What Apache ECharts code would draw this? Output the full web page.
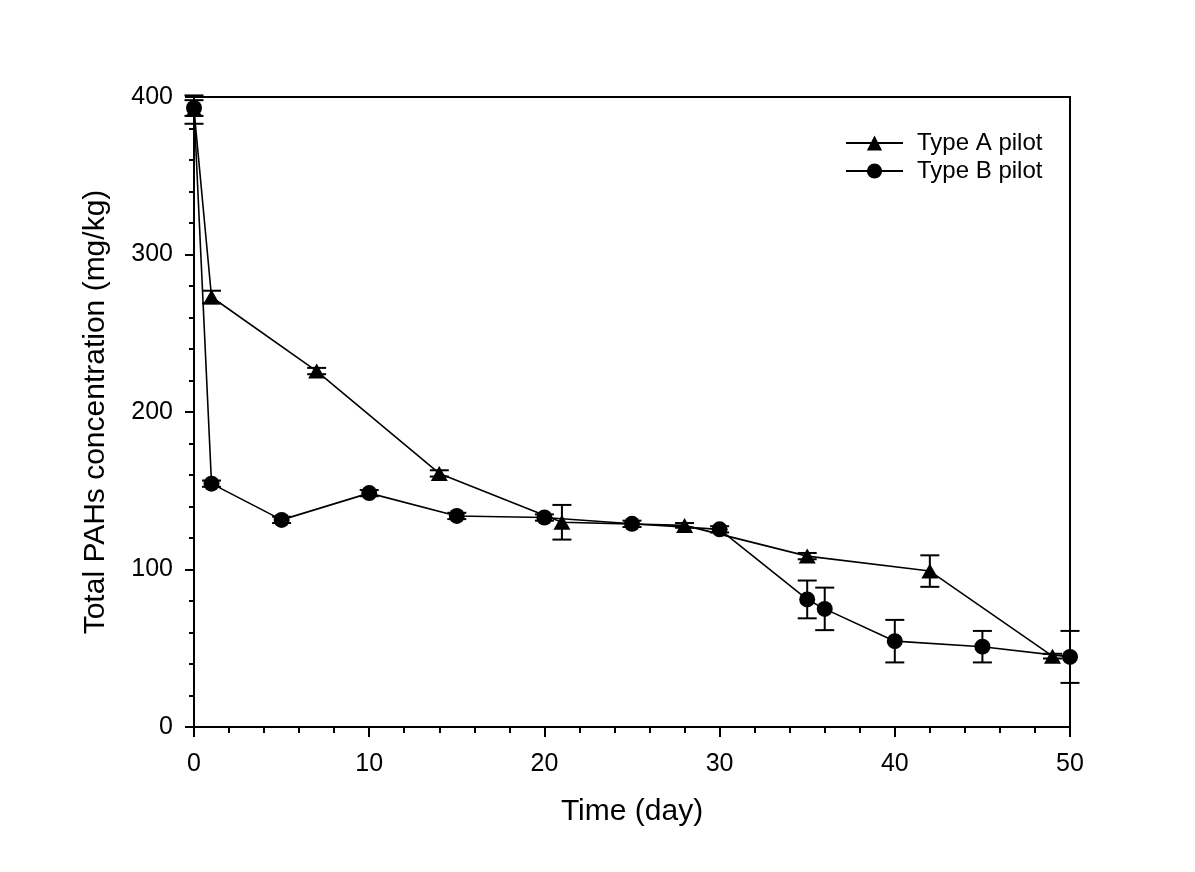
<!DOCTYPE html>
<html>
<head>
<meta charset="utf-8">
<script src="https://cdn.jsdelivr.net/npm/echarts@6/dist/echarts.min.js"></script>
<style>html,body{margin:0;padding:0;background:#fff;}#c{width:1195px;height:872px;}</style>
</head>
<body>
<div id="c"></div>
<script>
// Type A pilot
const aDays = [0, 1, 7, 14, 21, 28, 35, 42, 49];
const aConc = [392, 273, 226, 161, 130, 128, 108.5, 99, 45];
const aErr  = [9, 4, 2, 2, 11, 1.5, 2, 10, 1.5];
// Type B pilot
const bDays = [0, 1, 5, 10, 15, 20, 25, 30, 35, 36, 40, 45, 50];
const bConc = [393, 154.5, 131.5, 148.5, 134, 133, 129, 125.5, 81, 75, 54.5, 51, 44.5];
const bErr  = [5, 2, 2, 2, 2, 2, 2, 2, 12, 13.5, 13.5, 10, 16.5];

const xTicks = [0, 10, 20, 30, 40, 50];
const yTicks = [0, 100, 200, 300, 400];

const FONT = '"Liberation Sans", Arial, sans-serif';
const pairs = (xs, ys) => xs.map((x, i) => [x, ys[i]]);
const triples = (xs, ys, es) => xs.map((x, i) => [x, ys[i], es[i]]);

function errRender(params, api) {
  const x = api.value(0), y = api.value(1), e = api.value(2);
  const top = api.coord([x, y + e]);
  const bot = api.coord([x, y - e]);
  const w = 9.5;
  const st = { stroke: '#000', lineWidth: 2 };
  return {
    type: 'group',
    children: [
      { type: 'line', shape: { x1: top[0], y1: top[1], x2: bot[0], y2: bot[1] }, style: st },
      { type: 'line', shape: { x1: top[0] - w, y1: top[1], x2: top[0] + w, y2: top[1] }, style: st },
      { type: 'line', shape: { x1: bot[0] - w, y1: bot[1], x2: bot[0] + w, y2: bot[1] }, style: st }
    ]
  };
}

const chart = echarts.init(document.getElementById('c'), null, { renderer: 'canvas' });
chart.setOption({
  backgroundColor: '#fff',
  animation: false,
  textStyle: { fontFamily: FONT, color: '#000' },
  grid: { left: 194, top: 97, width: 876, height: 630, show: true, borderColor: '#000', borderWidth: 2, backgroundColor: 'transparent' },
  legend: {
    orient: 'vertical',
    left: 845, top: 131, padding: 0,
    itemWidth: 57, itemHeight: 19, itemGap: 4,
    textStyle: { fontSize: 24, color: '#000', fontFamily: FONT, padding: [0, 0, 0, 9] },
    data: ['Type A pilot', 'Type B pilot']
  },
  xAxis: {
    type: 'value', min: xTicks[0], max: xTicks[xTicks.length - 1], interval: 10,
    name: 'Time (day)', nameLocation: 'middle', nameGap: 70,
    nameTextStyle: { fontSize: 30, color: '#000', fontFamily: FONT },
    axisLine: { show: true, lineStyle: { color: '#000', width: 2 } },
    axisTick: { show: true, length: 10, lineStyle: { color: '#000', width: 2 } },
    minorTick: { show: true, splitNumber: 5, length: 6, lineStyle: { color: '#000', width: 2 } },
    axisLabel: { fontSize: 25, color: '#000', margin: 25, fontFamily: FONT },
    splitLine: { show: false }
  },
  yAxis: {
    type: 'value', min: yTicks[0], max: yTicks[yTicks.length - 1], interval: 100,
    name: 'Total PAHs concentration (mg/kg)', nameLocation: 'middle', nameGap: 83,
    nameTextStyle: { fontSize: 30, color: '#000', fontFamily: FONT },
    axisLine: { show: true, lineStyle: { color: '#000', width: 2 } },
    axisTick: { show: true, length: 9, lineStyle: { color: '#000', width: 2 } },
    minorTick: { show: true, splitNumber: 5, length: 5, lineStyle: { color: '#000', width: 2 } },
    axisLabel: { fontSize: 25, color: '#000', margin: 21, fontFamily: FONT },
    splitLine: { show: false }
  },
  series: [
    {
      type: 'custom', name: 'errA', renderItem: errRender, data: triples(aDays, aConc, aErr),
      z: 1, silent: true, clip: false
    },
    {
      type: 'custom', name: 'errB', renderItem: errRender, data: triples(bDays, bConc, bErr),
      z: 1, silent: true, clip: false
    },
    {
      name: 'Type A pilot', type: 'line', data: pairs(aDays, aConc),
      symbol: 'triangle', symbolSize: [17, 15], showAllSymbol: true,
      lineStyle: { color: '#000', width: 1.6 },
      itemStyle: { color: '#000', borderColor: '#000', borderWidth: 0 },
      z: 3
    },
    {
      name: 'Type B pilot', type: 'line', data: pairs(bDays, bConc),
      symbol: 'circle', symbolSize: 16, showAllSymbol: true,
      lineStyle: { color: '#000', width: 1.6 },
      itemStyle: { color: '#000', borderColor: '#000', borderWidth: 0 },
      z: 3
    }
  ]
});
</script>
</body>
</html>
